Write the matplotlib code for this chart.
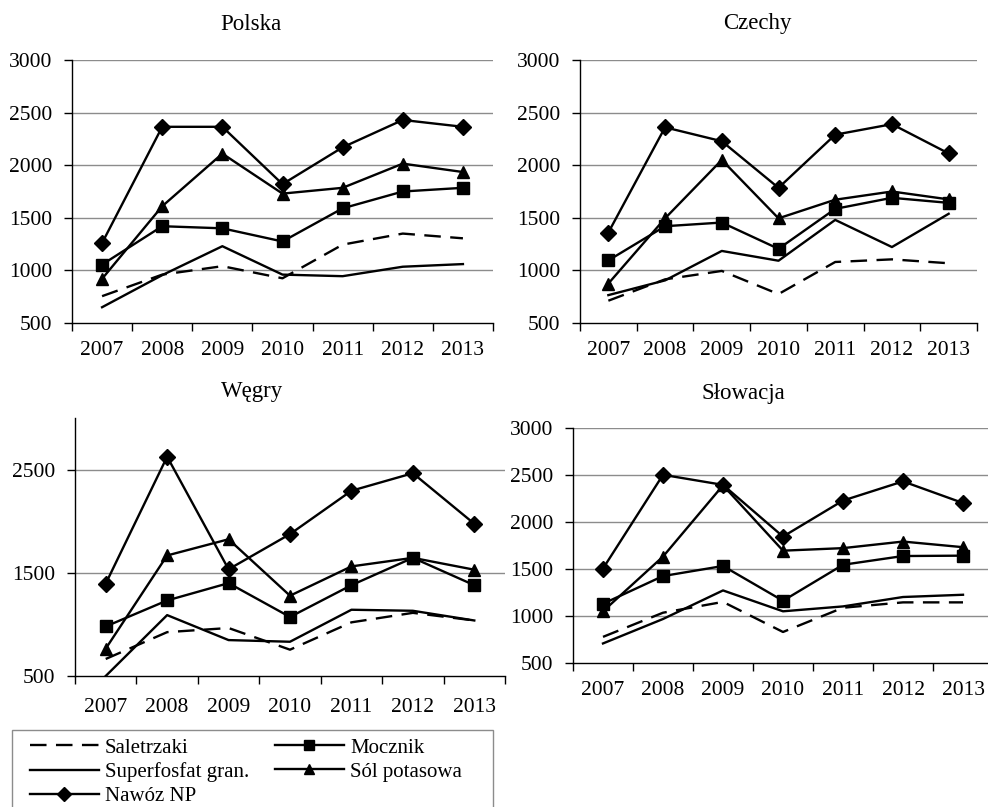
import matplotlib
matplotlib.use('Agg')
import matplotlib.pyplot as plt
from matplotlib.lines import Line2D
from matplotlib.patches import Rectangle
import numpy as np

plt.rcParams['font.family'] = ['Liberation Serif', 'DejaVu Serif']

# Dane
lata = ['2007', '2008', '2009', '2010', '2011', '2012', '2013']
serie = ['Saletrzaki', 'Mocznik', 'Superfosfat gran.', 'Sól potasowa', 'Nawóz NP']

polska_saletrzaki = [755, 960, 1040, 925, 1245, 1350, 1305]
polska_mocznik = [1055, 1420, 1400, 1275, 1590, 1750, 1785]
polska_superfosfat = [650, 955, 1230, 960, 945, 1035, 1060]
polska_sol = [920, 1610, 2110, 1730, 1785, 2015, 1935]
polska_np = [1260, 2365, 2365, 1820, 2170, 2430, 2365]

czechy_saletrzaki = [712, 915, 995, 775, 1080, 1105, 1068]
czechy_mocznik = [1095, 1420, 1455, 1205, 1585, 1690, 1642]
czechy_superfosfat = [765, 905, 1185, 1092, 1480, 1222, 1538]
czechy_sol = [875, 1495, 2050, 1495, 1672, 1750, 1675]
czechy_np = [1360, 2360, 2228, 1785, 2290, 2390, 2112]

wegry_saletrzaki = [665, 925, 965, 755, 1020, 1112, 1038]
wegry_mocznik = [980, 1232, 1400, 1072, 1380, 1645, 1380]
wegry_superfosfat = [500, 1090, 848, 832, 1142, 1132, 1038]
wegry_sol = [765, 1668, 1825, 1278, 1562, 1645, 1530]
wegry_np = [1395, 2625, 1534, 1875, 2295, 2465, 1975]

slowacja_saletrzaki = [778, 1035, 1150, 830, 1088, 1145, 1145]
slowacja_mocznik = [1130, 1425, 1532, 1162, 1545, 1638, 1642]
slowacja_superfosfat = [708, 968, 1272, 1050, 1102, 1202, 1226]
slowacja_sol = [1050, 1632, 2390, 1695, 1722, 1792, 1732]
slowacja_np = [1505, 2502, 2395, 1845, 2228, 2432, 2202]

W, H = 988, 807
fig = plt.figure(figsize=(W / 100, H / 100), dpi=100)

style = {
    'Saletrzaki': dict(color='black', lw=1.7, ls=(0, (7, 4)), marker=None),
    'Mocznik': dict(color='black', lw=1.7, ls='-', marker='s', ms=9),
    'Superfosfat gran.': dict(color='black', lw=1.7, ls='-', marker=None),
    'Sól potasowa': dict(color='black', lw=1.7, ls='-', marker='^', ms=9),
    'Nawóz NP': dict(color='black', lw=1.7, ls='-', marker='D', ms=8),
}


def osie(l, t, r, b):
    # pozycja osi w pikselach
    return fig.add_axes([l / W, 1 - b / H, (r - l) / W, (b - t) / H])


def wykres(ax, dane, yticks, xpad):
    x = np.arange(len(lata))
    for nazwa, y in zip(serie, dane):
        s = style[nazwa]
        ax.plot(x, y, color=s['color'], lw=s['lw'], linestyle=s['ls'],
                marker=s['marker'], markersize=s.get('ms', 0), zorder=3)
    ax.set_xlim(-0.5, 6.5)
    ax.set_ylim(500, 3000)
    ax.set_yticks(yticks)
    ax.set_xticks(x)
    ax.set_xticklabels(lata)
    ax.set_xticks(np.arange(-0.5, 7, 1), minor=True)
    ax.tick_params(axis='x', which='major', length=0, pad=xpad, labelsize=15.5)
    ax.tick_params(axis='x', which='minor', length=6, width=1, direction='out')
    ax.tick_params(axis='y', length=6, width=1, direction='out', pad=8, labelsize=15.5)
    for t in yticks[1:]:
        ax.axhline(t, color='#8c8c8c', lw=1.0, zorder=1)
    ax.spines['top'].set_visible(False)
    ax.spines['right'].set_visible(False)
    ax.spines['left'].set_linewidth(1.0)
    ax.spines['bottom'].set_linewidth(1.0)


ax1 = osie(72, 60, 493, 323)
wykres(ax1, [polska_saletrzaki, polska_mocznik, polska_superfosfat, polska_sol, polska_np],
       [500, 1000, 1500, 2000, 2500, 3000], 13)
ax2 = osie(580, 60, 977, 323)
wykres(ax2, [czechy_saletrzaki, czechy_mocznik, czechy_superfosfat, czechy_sol, czechy_np],
       [500, 1000, 1500, 2000, 2500, 3000], 13)
ax3 = osie(75, 418, 505, 676)
wykres(ax3, [wegry_saletrzaki, wegry_mocznik, wegry_superfosfat, wegry_sol, wegry_np],
       [500, 1500, 2500], 16)
ax4 = osie(573, 428, 993, 663)
wykres(ax4, [slowacja_saletrzaki, slowacja_mocznik, slowacja_superfosfat, slowacja_sol, slowacja_np],
       [500, 1000, 1500, 2000, 2500, 3000], 13)

fig.text(251 / W, 1 - 24 / H, 'Polska', ha='center', va='center', fontsize=16.5)
fig.text(757 / W, 1 - 24 / H, 'Czechy', ha='center', va='center', fontsize=16.5)
fig.text(252 / W, 1 - 392 / H, 'Węgry', ha='center', va='center', fontsize=16.5)
fig.text(743 / W, 1 - 393 / H, 'Słowacja', ha='center', va='center', fontsize=16.5)

# legenda
fig.patches.append(Rectangle((12 / W, 1 - 830 / H), (493 - 12) / W, 100 / H,
                             transform=fig.transFigure, fill=False,
                             edgecolor='#8c8c8c', lw=1.0))


def uchwyt(nazwa):
    s = style[nazwa]
    return Line2D([], [], color=s['color'], lw=s['lw'], linestyle=s['ls'],
                  marker=s['marker'], markersize=s.get('ms', 0) * 0.85)


kol1 = ['Saletrzaki', 'Superfosfat gran.', 'Nawóz NP']
kol2 = ['Mocznik', 'Sól potasowa']
for kol, xl in [(kol1, 30), (kol2, 275)]:
    leg = fig.legend([uchwyt(n) for n in kol], kol, loc='upper left',
                     bbox_to_anchor=(xl / W, 1 - 738 / H), frameon=False,
                     fontsize=15, handlelength=3.3, handletextpad=0.3,
                     labelspacing=0.22, borderpad=0, borderaxespad=0, numpoints=1)

fig.savefig('out.png', dpi=100)
